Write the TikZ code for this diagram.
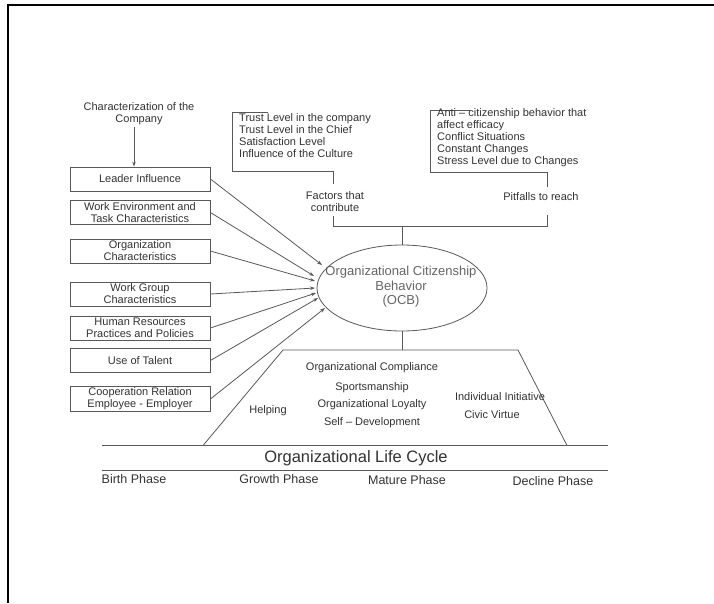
\documentclass[tikz,border=0pt]{standalone}
\usepackage{fontspec}
\setmainfont{Liberation Sans}
\usetikzlibrary{arrows.meta,shapes.geometric}
\begin{document}
\begin{tikzpicture}[x=1pt,y=-1pt,
  txt/.style={font=\fontsize{11}{12}\selectfont, text=black!80, inner sep=0pt, align=center},
  ltxt/.style={txt, align=left, anchor=west},
  lbox/.style={draw=black!65, line width=0.8pt, minimum width=140pt, minimum height=24pt, inner sep=1pt, font=\fontsize{11}{12}\selectfont, text=black!80, align=center},
  ln/.style={draw=black!65, line width=0.8pt},
  arr/.style={ln, -{Stealth[length=5pt,width=3.5pt]}},
  phase/.style={font=\fontsize{12.5}{14}\selectfont, text=black!80, inner sep=0pt}]
\useasboundingbox (0,0) rectangle (714,603);
\fill[white] (0,0) rectangle (714,603);
% frame
\draw[line width=2.2pt] (8,603) -- (8,5) -- (714,5);

% left column
\node[txt] (char) at (139,114) {Characterization of the\\Company};
\node[lbox] (b1) at (140,179) {Leader Influence};
\node[lbox] (b2) at (140,212.5) {Work Environment and\\Task Characteristics};
\node[lbox] (b3) at (140,251) {Organization\\Characteristics};
\node[lbox] (b4) at (140,294) {Work Group\\Characteristics};
\node[lbox] (b5) at (140,328) {Human Resources\\Practices and Policies};
\node[lbox] (b6) at (140,360.5) {Use of Talent};
\node[lbox] (b7) at (140,399) {Cooperation Relation\\Employee - Employer};
\coordinate (ca) at (134,127);
\draw[arr] (ca) -- (ca |- b1.north);

% OCB ellipse
\node[ellipse, ln, minimum width=170pt, minimum height=86pt, inner sep=0pt] (ocb) at (402,288) {};
\node[font=\fontsize{13}{14.5}\selectfont, text=black!60, align=center, inner sep=0pt] (ocbt) at (401,287) {Organizational Citizenship\\Behavior\\(OCB)};

% arrows into OCB
\coordinate (e1) at (322,265);
\coordinate (e2) at (314,276);
\coordinate (e3) at (315,281);
\coordinate (e4) at (315,288);
\coordinate (e5) at (316,293);
\coordinate (e6) at (318,298);
\coordinate (e7) at (325,308);
\draw[arr] (b1.east) -- (e1);
\draw[arr] (b2.east) -- (e2);
\draw[arr] (b3.east) -- (e3);
\draw[arr] (b4.east) -- (e4);
\draw[arr] (b5.east) -- (e5);
\draw[arr] (b6.east) -- (e6);
\draw[arr] (b7.east) -- (e7);

% factors bracket
\draw[ln] (268,112) -- (232,112) -- (232,171) -- (333,171) -- (333,184);
\node[ltxt] (trust) at (239,136) {Trust Level in the company\\Trust Level in the Chief\\Satisfaction Level\\Influence of the Culture};
\node[txt] (fac) at (335,201.5) {Factors that\\contribute};

% pitfalls bracket
\draw[ln] (470,110) -- (430,110) -- (430,172) -- (547,172) -- (547,187);
\node[ltxt] (anti) at (437,138) {Anti -- citizenship behavior that\\affect efficacy\\Conflict Situations\\Constant Changes\\Stress Level due to Changes};
\node[txt] (pit) at (541,197) {Pitfalls to reach};

% connectors to OCB top
\draw[ln] (333,216) -- (333,226.5) -- (547,226.5) -- (547,215);
\coordinate (jt) at (402,226.5);
\draw[ln] (jt) -- (ocb.north);

% trapezoid
\coordinate (tl) at (283,350);
\coordinate (tr) at (518,350);
\coordinate (bl) at (203,445.5);
\coordinate (br) at (567,445.5);
\draw[ln] (bl) -- (tl) -- (tr) -- (br);
\draw[ln] (ocb.south) -- (ocb.south |- tl);

\node[txt] (comp) at (372,368) {Organizational Compliance};
\node[txt] (sport) at (372,388) {Sportsmanship};
\node[txt] (loy) at (372,405) {Organizational Loyalty};
\node[txt] (self) at (372,423) {Self -- Development};
\node[txt] (help) at (268,411) {Helping};
\node[txt] (ind) at (500,397) {Individual Initiative};
\node[txt] (civ) at (492,415) {Civic Virtue};

% life cycle
\coordinate (l1a) at (102,445.5);
\coordinate (l1b) at (608,445.5);
\coordinate (l2a) at (102,470.5);
\coordinate (l2b) at (608,470.5);
\draw[ln] (l1a) -- (l1b);
\draw[ln] (l2a) -- (l2b);
\node[font=\fontsize{16.5}{18}\selectfont, text=black!80, inner sep=0pt] (olc) at (356,458) {Organizational Life Cycle};
\node[phase] (p1) at (134,479) {Birth Phase};
\node[phase] (p2) at (279,479) {Growth Phase};
\node[phase] (p3) at (407,480) {Mature Phase};
\node[phase] (p4) at (553,481) {Decline Phase};
\end{tikzpicture}
\end{document}
